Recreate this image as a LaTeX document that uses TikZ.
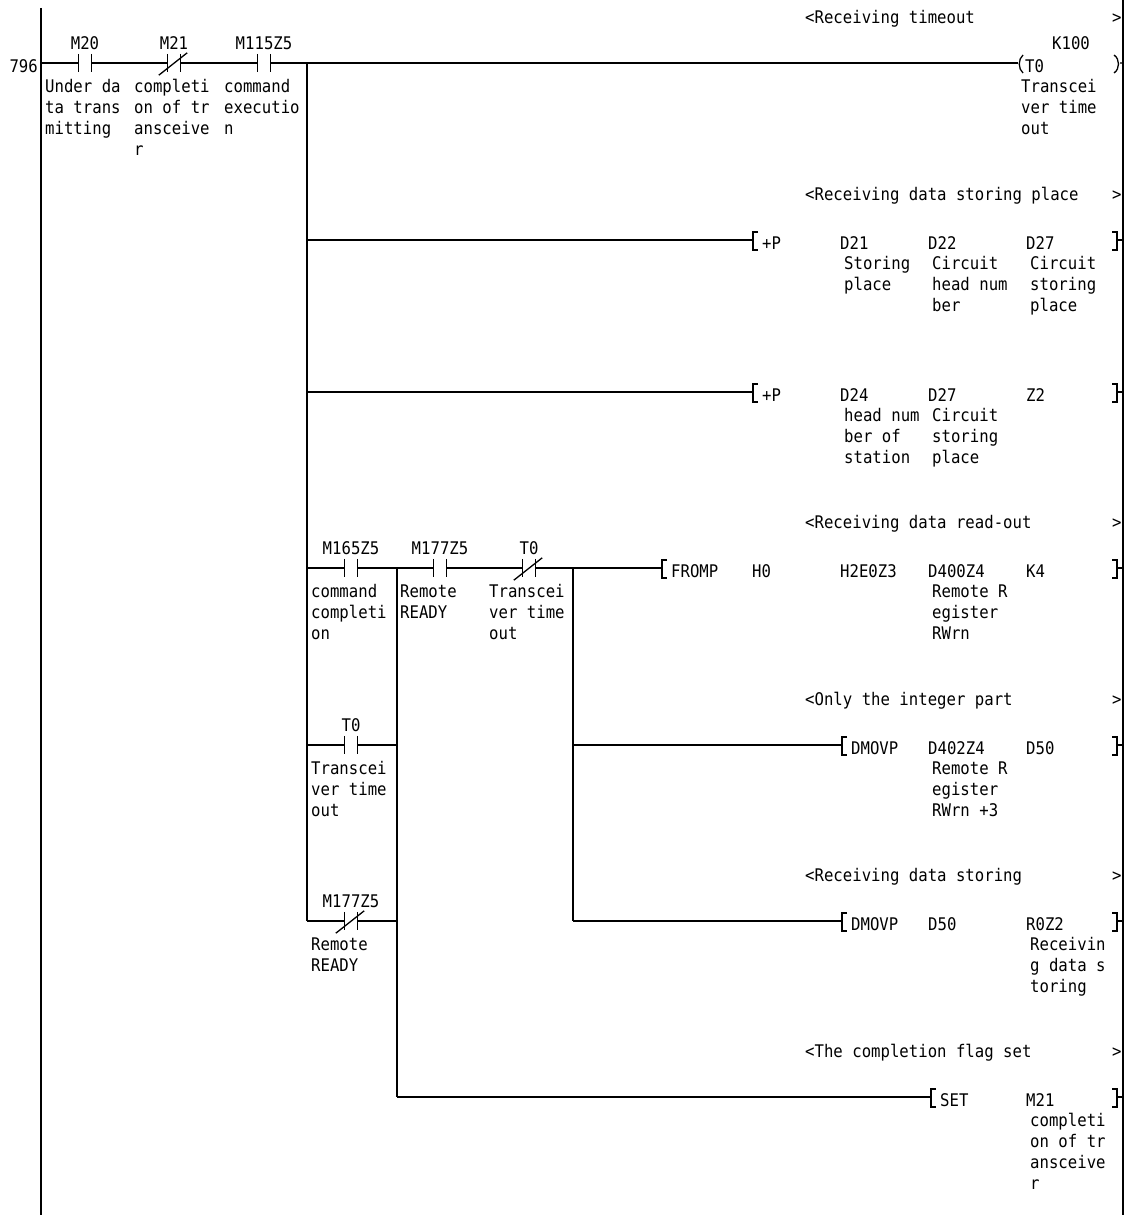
\documentclass[tikz,border=0pt]{standalone}
\usepackage{fontspec}
\newfontfamily\lad[FakeStretch=0.9]{DejaVu Sans Mono}
\newcommand\ladf{\lad\fontsize{17.4}{21}\selectfont}
\newcommand\cmtx[1]{\begin{tabular}[t]{@{}l@{}}#1\end{tabular}}
\begin{document}
\begin{tikzpicture}[x=1pt,y=-1pt,
  wire/.style={line width=1.3pt},
  rail/.style={line width=1.8pt},
  txt/.style={anchor=base west, inner sep=0pt, font=\ladf},
  lbl/.style={anchor=base, inner sep=0pt, font=\ladf},
  con/.style={minimum width=12pt, minimum height=18pt, inner sep=0pt, draw=none},
]
\useasboundingbox (0,0) rectangle (1134,1215);
% rails
\coordinate (LT) at (41,8);
\coordinate (LB) at (41,1215);
\coordinate (RT) at (1123,0);
\coordinate (RB) at (1123,1215);
\coordinate (L) at (41,63);
\draw[rail] (LT) -- (LB);
\draw[rail] (RT) -- (RB);

% contacts
\node[con] (c1) at (85,63) {};
\node[con] (c2) at (174,63) {};
\node[con] (c3) at (264,63) {};
\node[con] (c4) at (351,568) {};
\node[con] (c5) at (440,568) {};
\node[con] (c6) at (529,568) {};
\node[con] (c7) at (351,745) {};
\node[con] (c8) at (351,921) {};
\foreach \c in {c1,c2,c3,c4,c5,c6,c7,c8}
  \draw[wire] (\c.north west) -- (\c.south west) (\c.north east) -- (\c.south east);
\foreach \c in {c2,c6,c8}
  \draw[wire] ([shift={(-9pt,-3pt)}]\c.south west) -- ([shift={(7pt,1pt)}]\c.north east);

% instruction entry points and right ends
\coordinate (k1) at (1018,63);
\coordinate (i2) at (753,240);
\coordinate (i3) at (753,392);
\coordinate (i4) at (662,568);
\coordinate (i5) at (842,745);
\coordinate (i6) at (842,921);
\coordinate (i7) at (931,1097);
\coordinate (r1) at (1120,63);
\coordinate (r2) at (1117,240);
\coordinate (r3) at (1117,392);
\coordinate (r4) at (1117,568);
\coordinate (r5) at (1117,745);
\coordinate (r6) at (1117,921);
\coordinate (r7) at (1117,1097);
\foreach \i in {i2,i3,i4,i5,i6,i7}
  \draw[wire] ([shift={(5pt,8pt)}]\i) -- ([shift={(0pt,8pt)}]\i) -- ([shift={(0pt,-10pt)}]\i) -- ([shift={(5pt,-10pt)}]\i);
\foreach \r in {r2,r3,r4,r5,r6,r7}
  \draw[wire] ([shift={(-5pt,8pt)}]\r) -- ([shift={(0pt,8pt)}]\r) -- ([shift={(0pt,-10pt)}]\r) -- ([shift={(-5pt,-10pt)}]\r)
    (\r) -- (\r -| RT);
% coil
\draw[wire] ([shift={(5pt,8pt)}]k1) .. controls ([shift={(0pt,4pt)}]k1) and ([shift={(0pt,-6pt)}]k1) .. ([shift={(5pt,-10pt)}]k1);
\draw[wire] ([shift={(-6pt,8pt)}]r1) .. controls ([shift={(0pt,4pt)}]r1) and ([shift={(0pt,-6pt)}]r1) .. ([shift={(-6pt,-10pt)}]r1)
  (r1) -- (r1 -| RT);

% branch lines
\coordinate (A1) at (307,63);
\coordinate (A6) at (307,921);
\coordinate (B4) at (397,568);
\coordinate (B7) at (397,1097);
\coordinate (C4) at (573,568);
\coordinate (C6) at (573,921);
\draw[wire] (A1) -- (A6);
\draw[wire] (B4) -- (B7);
\draw[wire] (C4) -- (C6);

% wires
\draw[wire] (L) -- (c1.west) (c1.east) -- (c2.west) (c2.east) -- (c3.west) (c3.east) -- (k1);
\draw[wire] (A1 |- i2) -- (i2);
\draw[wire] (A1 |- i3) -- (i3);
\draw[wire] (A1 |- c4) -- (c4.west) (c4.east) -- (c5.west) (c5.east) -- (c6.west) (c6.east) -- (i4);
\draw[wire] (A1 |- c7) -- (c7.west) (c7.east) -- (B4 |- c7);
\draw[wire] (A1 |- c8) -- (c8.west) (c8.east) -- (B4 |- c8);
\draw[wire] (C4 |- i5) -- (i5);
\draw[wire] (C6) -- (i6);
\draw[wire] (B7) -- (i7);

% ---- rung 1 texts
\node[txt, anchor=base east] (n796) at (38,72) {796};
\node[lbl] (l1) at (85,49.5) {M20};
\node[lbl] (l2) at (174,49.5) {M21};
\node[lbl] (l3) at (264,49.5) {M115Z5};
\node[txt] (m1) at (45,92.5) {\cmtx{Under da\\ta trans\\mitting}};
\node[txt] (m2) at (134,92.5) {\cmtx{completi\\on of tr\\ansceive\\r}};
\node[txt] (m3) at (224,92.5) {\cmtx{command\\executio\\n}};
\node[txt] (h1) at (805,23.5) {<Receiving timeout};
\node[txt] (g1) at (1112,23.5) {>};
\node[txt] (kk) at (1052,49.5) {K100};
\node[txt] (kt) at (1025,72) {T0};
\node[txt] (km) at (1021,92.5) {\cmtx{Transcei\\ver time\\out}};

% ---- rung 2
\node[txt] (h2) at (805,200.5) {<Receiving data storing place};
\node[txt] (g2) at (1112,200.5) {>};
\node[txt] (p2) at (762,249) {+P};
\node[txt] (o21) at (840,249) {D21};
\node[txt] (o22) at (928,249) {D22};
\node[txt] (o23) at (1026,249) {D27};
\node[txt] (q21) at (844,269.5) {\cmtx{Storing\\place}};
\node[txt] (q22) at (932,269.5) {\cmtx{Circuit\\head num\\ber}};
\node[txt] (q23) at (1030,269.5) {\cmtx{Circuit\\storing\\place}};

% ---- rung 3
\node[txt] (p3) at (762,401) {+P};
\node[txt] (o31) at (840,401) {D24};
\node[txt] (o32) at (928,401) {D27};
\node[txt] (o33) at (1026,401) {Z2};
\node[txt] (q31) at (844,421.5) {\cmtx{head num\\ber of\\station}};
\node[txt] (q32) at (932,421.5) {\cmtx{Circuit\\storing\\place}};

% ---- rung 4
\node[txt] (h4) at (805,528.5) {<Receiving data read-out};
\node[txt] (g4) at (1112,528.5) {>};
\node[lbl] (l4) at (351,554.5) {M165Z5};
\node[lbl] (l5) at (440,554.5) {M177Z5};
\node[lbl] (l6) at (529,554.5) {T0};
\node[txt] (m4) at (311,597.5) {\cmtx{command\\completi\\on}};
\node[txt] (m5) at (400,597.5) {\cmtx{Remote\\READY}};
\node[txt] (m6) at (489,597.5) {\cmtx{Transcei\\ver time\\out}};
\node[txt] (p4) at (671,577) {FROMP};
\node[txt] (o41) at (752,577) {H0};
\node[txt] (o42) at (840,577) {H2E0Z3};
\node[txt] (o43) at (928,577) {D400Z4};
\node[txt] (o44) at (1026,577) {K4};
\node[txt] (q43) at (932,597.5) {\cmtx{Remote R\\egister\\RWrn}};

% ---- rung 5
\node[txt] (h5) at (805,705.5) {<Only the integer part};
\node[txt] (g5) at (1112,705.5) {>};
\node[lbl] (l7) at (351,731.5) {T0};
\node[txt] (m7) at (311,774.5) {\cmtx{Transcei\\ver time\\out}};
\node[txt] (p5) at (851,754) {DMOVP};
\node[txt] (o51) at (928,754) {D402Z4};
\node[txt] (o52) at (1026,754) {D50};
\node[txt] (q51) at (932,774.5) {\cmtx{Remote R\\egister\\RWrn +3}};

% ---- rung 6
\node[txt] (h6) at (805,881.5) {<Receiving data storing};
\node[txt] (g6) at (1112,881.5) {>};
\node[lbl] (l8) at (351,907.5) {M177Z5};
\node[txt] (m8) at (311,950.5) {\cmtx{Remote\\READY}};
\node[txt] (p6) at (851,930) {DMOVP};
\node[txt] (o61) at (928,930) {D50};
\node[txt] (o62) at (1026,930) {R0Z2};
\node[txt] (q62) at (1030,950.5) {\cmtx{Receivin\\g data s\\toring}};

% ---- rung 7
\node[txt] (h7) at (805,1057.5) {<The completion flag set};
\node[txt] (g7) at (1112,1057.5) {>};
\node[txt] (p7) at (940,1106) {SET};
\node[txt] (o71) at (1026,1106) {M21};
\node[txt] (q71) at (1030,1126.5) {\cmtx{completi\\on of tr\\ansceive\\r}};
\end{tikzpicture}
\end{document}
